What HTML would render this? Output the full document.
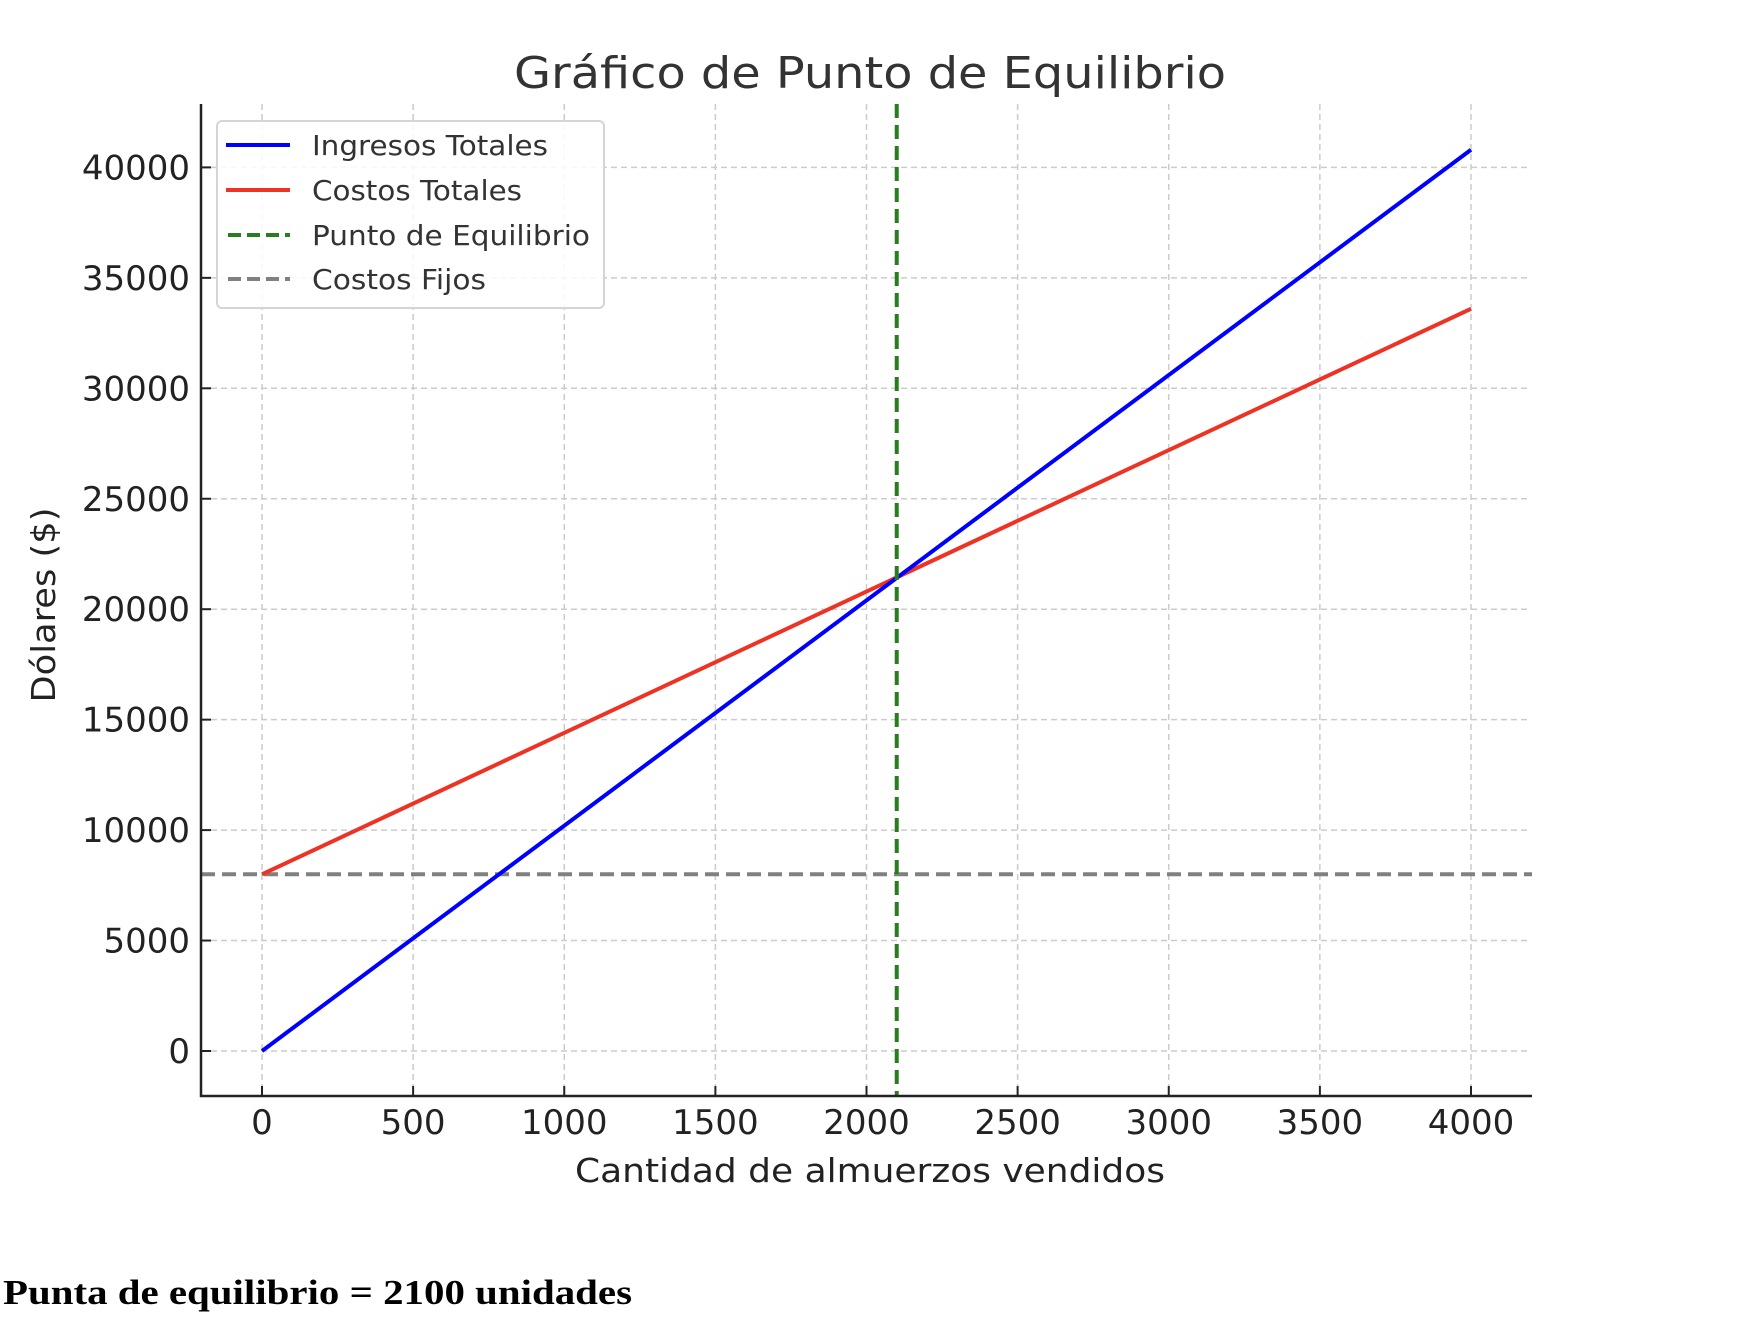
<!DOCTYPE html>
<html><head><meta charset="utf-8"><style>
html,body{margin:0;padding:0;background:#fff;}
svg{display:block;font-family:"DejaVu Sans","Liberation Sans",sans-serif;}
</style></head><body>
<svg id="chart" width="1740" height="1328" viewBox="0 0 1740 1328" xmlns="http://www.w3.org/2000/svg">
<text x="870" y="88" text-anchor="middle" font-size="44" fill="#333" textLength="712" lengthAdjust="spacingAndGlyphs">Gráfico de Punto de Equilibrio</text>
<g id="grid"></g>
<g id="series"></g>
<g id="axes"></g>
<text x="870" y="1182" text-anchor="middle" font-size="33" fill="#222" textLength="590" lengthAdjust="spacingAndGlyphs">Cantidad de almuerzos vendidos</text>
<text transform="translate(55,605) rotate(-90)" text-anchor="middle" font-size="33" fill="#222" textLength="195" lengthAdjust="spacingAndGlyphs">Dólares ($)</text>
<g>
<rect x="217" y="121" width="387" height="187" rx="5" fill="#fff" fill-opacity="0.85" stroke="#d5d5d5" stroke-width="2"/>
<line x1="226" y1="145" x2="290" y2="145" stroke="#0000ff" stroke-width="4"/>
<text x="312" y="155" font-size="28" fill="#333" textLength="236" lengthAdjust="spacingAndGlyphs">Ingresos Totales</text>
<line x1="226" y1="190" x2="290" y2="190" stroke="#ee3224" stroke-width="4"/>
<text x="312" y="200" font-size="28" fill="#333" textLength="210" lengthAdjust="spacingAndGlyphs">Costos Totales</text>
<line x1="228" y1="235" x2="290" y2="235" stroke="#2a7d1e" stroke-width="4" stroke-dasharray="13,6"/>
<text x="312" y="245" font-size="28" fill="#333" textLength="278" lengthAdjust="spacingAndGlyphs">Punto de Equilibrio</text>
<line x1="228" y1="279" x2="290" y2="279" stroke="#808080" stroke-width="4" stroke-dasharray="13,6"/>
<text x="312" y="289" font-size="28" fill="#333" textLength="174" lengthAdjust="spacingAndGlyphs">Costos Fijos</text>
</g>
<text x="3" y="1304" font-family="'Liberation Serif',serif" font-weight="bold" font-size="35" fill="#000" textLength="629" lengthAdjust="spacingAndGlyphs">Punta de equilibrio = 2100 unidades</text>
</svg>
<script>
const quantities = [0, 4000];
const revenue = [0, 40800];
const totalCosts = [8000, 33600];
const fixedCost = 8000;
const breakEven = 2100;
const xTicks = [0, 500, 1000, 1500, 2000, 2500, 3000, 3500, 4000];
const yTicks = [0, 5000, 10000, 15000, 20000, 25000, 30000, 35000, 40000];

const NS = "http://www.w3.org/2000/svg";
const X0 = 262, XS = 0.30225, Y0 = 1051, YS = 0.02209;
const LEFT = 201, RIGHT = 1532, TOP = 104, BOTTOM = 1096;
function sx(v){ return X0 + v * XS; }
function sy(v){ return Y0 - v * YS; }
function mk(tag, attrs, parent){
  const el = document.createElementNS(NS, tag);
  for (const k in attrs) el.setAttribute(k, attrs[k]);
  parent.appendChild(el);
  return el;
}
const grid = document.getElementById('grid');
const series = document.getElementById('series');
const axes = document.getElementById('axes');

xTicks.forEach(t => {
  const g = mk('line', {x1: sx(t), x2: sx(t), y1: TOP, y2: BOTTOM, stroke: '#cccccc', 'stroke-width': 1.5, 'stroke-dasharray': '6,4'}, grid);
  
  
  const tk = mk('line', {x1: sx(t), x2: sx(t), y1: BOTTOM, y2: BOTTOM - 10, stroke: '#222', 'stroke-width': 2}, axes);
  
  
  const lb = mk('text', {x: sx(t), y: 1134, 'text-anchor': 'middle', 'font-size': 34, fill: '#222'}, axes);
  lb.textContent = String(t);
  
  
});
yTicks.forEach(t => {
  const g = mk('line', {x1: LEFT, x2: 1530, y1: sy(t), y2: sy(t), stroke: '#cccccc', 'stroke-width': 1.5, 'stroke-dasharray': '6,4'}, grid);
  
  
  const tk = mk('line', {x1: LEFT, x2: LEFT + 10, y1: sy(t), y2: sy(t), stroke: '#222', 'stroke-width': 2}, axes);
  
  
  const lb = mk('text', {x: 190, y: sy(t) + 12, 'text-anchor': 'end', 'font-size': 34, fill: '#222'}, axes);
  lb.textContent = String(t);
  
  
});

const fc = mk('line', {x1: LEFT, x2: RIGHT, y1: sy(fixedCost), y2: sy(fixedCost), stroke: '#808080', 'stroke-width': 4, 'stroke-dasharray': '14,7'}, series);



const costPts = quantities.map((q, i) => sx(q) + ',' + sy(totalCosts[i])).join(' ');
const cl = mk('polyline', {points: costPts, fill: 'none', stroke: '#ee3224', 'stroke-width': 4}, series);



const revPts = quantities.map((q, i) => sx(q) + ',' + sy(revenue[i])).join(' ');
const rl = mk('polyline', {points: revPts, fill: 'none', stroke: '#0000ff', 'stroke-width': 4}, series);



const be = mk('line', {x1: sx(breakEven), x2: sx(breakEven), y1: TOP, y2: BOTTOM, stroke: '#2a7d1e', 'stroke-width': 4, 'stroke-dasharray': '14,7'}, series);



const ls = mk('line', {x1: LEFT, x2: LEFT, y1: TOP, y2: BOTTOM + 1, stroke: '#222', 'stroke-width': 2.5}, axes);


const bs = mk('line', {x1: LEFT - 1, x2: RIGHT, y1: BOTTOM, y2: BOTTOM, stroke: '#222', 'stroke-width': 2.5}, axes);


</script>
</body></html>
